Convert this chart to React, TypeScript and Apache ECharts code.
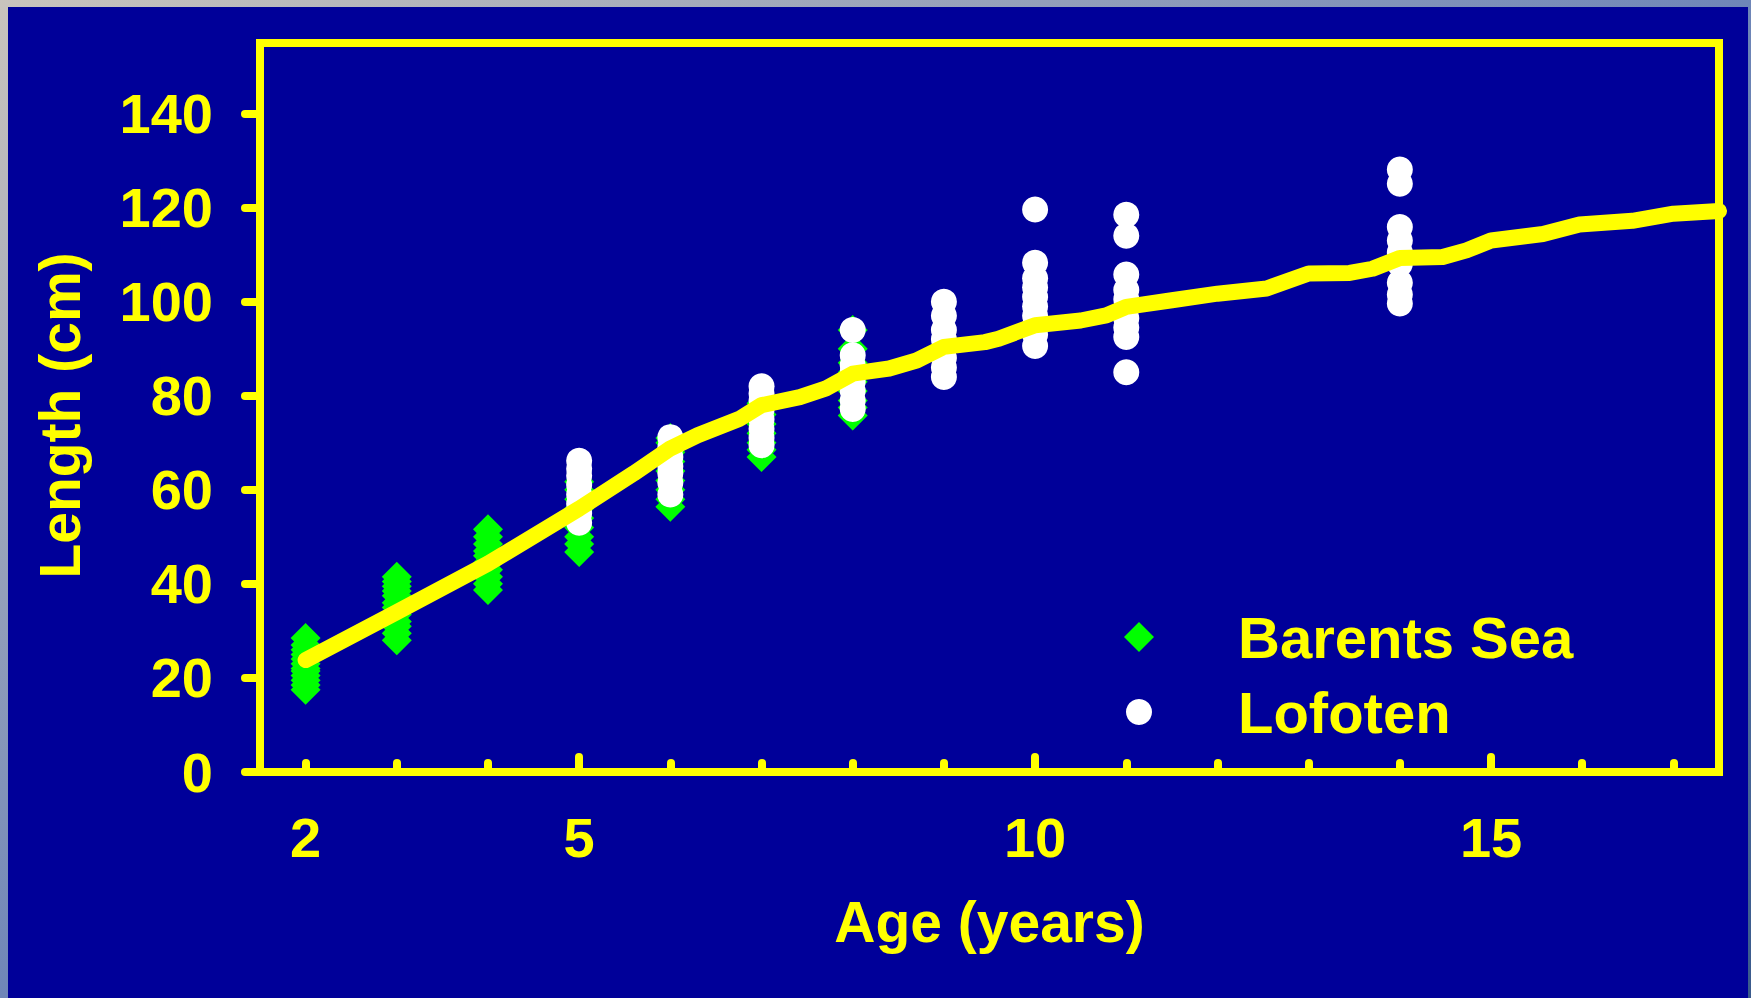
import React, { useEffect, useRef } from "react";
import * as echarts from "echarts";

// ---- axis ticks / labels ----
const xTickValues = [2, 3, 4, 5, 6, 7, 8, 9, 10, 11, 12, 13, 14, 15, 16, 17];
const xMajorTickValues = [5, 10, 15];
const xLabelValues = [2, 5, 10, 15];
const yTickValues = [0, 20, 40, 60, 80, 100, 120, 140];

// ---- Barents Sea (green diamonds), lengths by age ----
const barentsAge2 = [17.5, 18.5, 19.5, 20.5, 21.5, 22, 23, 24, 25, 26, 27, 28.5];
const barentsAge3 = [28, 29.5, 31, 32, 33.5, 35, 36, 37.5, 38.5, 39.5, 40.5, 41.5];
const barentsAge4 = [38.7, 40, 41.5, 43, 44.5, 46, 47, 48.5, 50, 51.6];
const barentsAge5 = [46.8, 48.5, 50, 52, 54, 56, 58, 60, 61.7];
const barentsAge6 = [56.4, 58, 60, 62, 64, 66, 68, 70, 71];
const barentsAge7 = [67, 68.5, 70, 72, 74, 76, 78.4];
const barentsAge8 = [75.8, 77.5, 79, 81, 83, 85, 87, 90, 94];

// ---- Lofoten (white circles), lengths by age ----
const lofotenAge5 = [53, 55, 57, 59, 61, 63, 64.5, 66.2];
const lofotenAge6 = [59, 61.5, 63.5, 65, 67, 69, 71.2];
const lofotenAge7 = [69.5, 71, 73, 75, 77, 79, 80.5, 82];
const lofotenAge8 = [77.2, 79, 81, 83, 85, 86.5, 88.6, 94];
const lofotenAge9 = [84, 86, 88, 90, 92, 94, 97, 100];
const lofotenAge10 = [90.6, 93, 95, 97, 99, 101, 103, 105, 108.3, 119.6];
const lofotenAge11 = [85, 92.5, 94.5, 96.5, 98.5, 100.5, 102.5, 105.8, 114, 118.5];
const lofotenAge14 = [99.6, 101.5, 104, 108, 110.5, 113, 115.9, 125.1, 128.1];

// ---- growth curve (yellow) ----
const fitAges = [2, 3, 4, 5, 5.6, 6, 6.3, 6.76, 7, 7.42, 7.7, 8, 8.4, 8.7, 9, 9.45, 9.6, 10, 10.5, 10.78, 11, 11.5, 12, 12.54, 13, 13.45, 13.7, 14, 14.47, 14.73, 15, 15.57, 15.97, 16.55, 17, 17.5];
const fitLengths = [23.8, 34, 44.3, 56, 63.5, 68.8, 71.6, 75.1, 78, 79.7, 81.5, 84.7, 85.8, 87.5, 90.4, 91.4, 92.1, 95, 96, 97.1, 98.9, 100.3, 101.7, 102.8, 106, 106.1, 107, 109.3, 109.5, 110.9, 113, 114.4, 116.4, 117.2, 118.7, 119.3];

const barentsGroups: [number, number[]][] = [
  [2, barentsAge2], [3, barentsAge3], [4, barentsAge4], [5, barentsAge5],
  [6, barentsAge6], [7, barentsAge7], [8, barentsAge8],
];
const lofotenGroups: [number, number[]][] = [
  [5, lofotenAge5], [6, lofotenAge6], [7, lofotenAge7], [8, lofotenAge8],
  [9, lofotenAge9], [10, lofotenAge10], [11, lofotenAge11], [14, lofotenAge14],
];

const flatten = (groups: [number, number[]][]) =>
  groups.flatMap(([age, vals]) => vals.map((v) => [age, v]));

const YELLOW = "#ffff00";
const BLUE = "#000099";
const FONT = "Liberation Sans";

export default function App() {
  const ref = useRef<HTMLDivElement>(null);

  useEffect(() => {
    if (!ref.current) return;
    const chart = echarts.init(ref.current, undefined, { renderer: "svg" });
    const textBase = { color: YELLOW, fontFamily: FONT, fontWeight: "bold" as const, fontSize: 56 };

    chart.setOption({
      animation: false,
      backgroundColor: new echarts.graphic.LinearGradient(0, 0, 1, 1, [
        { offset: 0, color: "#c9c4bd" },
        { offset: 0.5, color: "#6f86b8" },
        { offset: 1, color: "#3a5a8c" },
      ]),
      graphic: [
        { type: "rect", z: -10, shape: { x: 8, y: 7, width: 1740, height: 991 }, style: { fill: BLUE } },
      ],
      grid: {
        left: 260, top: 43, width: 1459, height: 729,
        show: true, borderColor: YELLOW, borderWidth: 8, backgroundColor: "transparent",
        outerBoundsMode: "none",
      },
      legend: [
        {
          data: ["Barents Sea"], orient: "vertical", left: 1119, top: 602,
          itemWidth: 30, itemHeight: 30, icon: "diamond",
          textStyle: { ...textBase, fontSize: 58, lineHeight: 60, padding: [0, 0, 0, 79] },
        },
        {
          data: ["Lofoten"], orient: "vertical", left: 1121, top: 677,
          itemWidth: 26, itemHeight: 26, icon: "circle",
          textStyle: { ...textBase, fontSize: 58, lineHeight: 60, padding: [0, 0, 0, 81] },
        },
      ],
      xAxis: [
        {
          type: "value", min: 1.5, max: 17.5,
          name: "Age (years)", nameLocation: "middle", nameGap: 121,
          nameTextStyle: { ...textBase, fontSize: 57 },
          splitLine: { show: false },
          axisLine: { lineStyle: { color: YELLOW, width: 8 } },
          axisTick: { show: true, inside: true, length: 9, customValues: xTickValues, lineStyle: { color: YELLOW, width: 8, cap: "round" } },
          axisLabel: { customValues: xLabelValues, margin: 37, ...textBase },
        },
        {
          type: "value", min: 1.5, max: 17.5, position: "bottom",
          splitLine: { show: false },
          axisLine: { show: false },
          axisTick: { show: true, inside: true, length: 15, customValues: xMajorTickValues, lineStyle: { color: YELLOW, width: 8, cap: "round" } },
          axisLabel: { show: false },
        },
      ],
      yAxis: {
        type: "value", min: 0, max: 155,
        name: "Length (cm)", nameLocation: "middle", nameGap: 172,
        nameTextStyle: { ...textBase, fontSize: 57, padding: [0, 16, 0, 0] },
        splitLine: { show: false },
        axisLine: { lineStyle: { color: YELLOW, width: 8 } },
        axisTick: { show: true, length: 15, customValues: yTickValues, lineStyle: { color: YELLOW, width: 8, cap: "round" } },
        axisLabel: { customValues: yTickValues, margin: 47, ...textBase },
      },
      series: [
        {
          name: "Barents Sea", type: "scatter", symbol: "diamond", symbolSize: 30,
          itemStyle: { color: "#00ff00", opacity: 1 }, z: 3,
          data: flatten(barentsGroups),
        },
        {
          name: "Lofoten", type: "scatter", symbol: "circle", symbolSize: 26,
          itemStyle: { color: "#ffffff", opacity: 1 }, z: 4,
          data: flatten(lofotenGroups),
        },
        {
          name: "Growth", type: "line", showSymbol: false, symbol: "none", z: 5,
          lineStyle: { color: YELLOW, width: 16, cap: "round", join: "round" },
          data: fitAges.map((a, i) => [a, fitLengths[i]]),
        },
      ],
    });
    return () => chart.dispose();
  }, []);

  return (
    <div
      ref={ref}
      style={{ position: "absolute", left: 0, top: 0, width: 1751, height: 998 }}
    />
  );
}
